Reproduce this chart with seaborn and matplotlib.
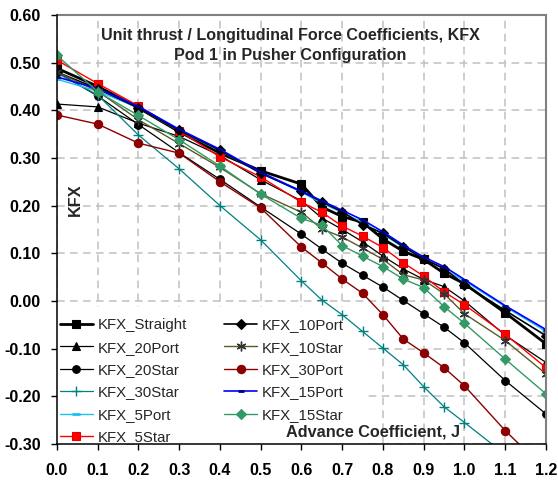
import matplotlib
matplotlib.use("Agg")
import matplotlib.pyplot as plt
import seaborn as sns
import pandas as pd
from matplotlib.patches import Rectangle
from matplotlib.ticker import MultipleLocator, FormatStrFormatter

# Advance coefficient stations
J = [0.0, 0.1, 0.2, 0.3, 0.4, 0.5, 0.6, 0.65, 0.7, 0.75, 0.8, 0.85, 0.9, 0.95, 1.0, 1.1, 1.2]

# Longitudinal force coefficient per pod angle
kfx_straight = [0.488, 0.450, 0.405, 0.355, 0.310, 0.273, 0.245, 0.197, 0.177, 0.165, 0.130, 0.104, 0.087, 0.058, 0.036, -0.025, -0.090]
kfx_20port   = [0.413, 0.407, 0.373, 0.345, 0.305, 0.254, 0.210, 0.174, 0.150, 0.124, 0.094, 0.067, 0.045, 0.030, 0.000, -0.072, -0.129]
kfx_20star   = [0.480, 0.430, 0.370, 0.311, 0.255, 0.197, 0.140, 0.109, 0.079, 0.054, 0.029, 0.001, -0.027, -0.055, -0.088, -0.167, -0.237]
kfx_30star   = [0.478, 0.432, 0.348, 0.277, 0.200, 0.128, 0.042, 0.002, -0.029, -0.064, -0.099, -0.134, -0.180, -0.222, -0.255, -0.322, -0.390]
kfx_5port    = [0.465, 0.440, 0.405, 0.357, 0.315, 0.268, 0.228, 0.205, 0.185, 0.165, 0.140, 0.112, 0.090, 0.066, 0.042, -0.012, -0.064]
kfx_5star    = [0.505, 0.456, 0.409, 0.357, 0.302, 0.260, 0.207, 0.186, 0.157, 0.136, 0.112, 0.080, 0.052, 0.019, -0.008, -0.070, -0.140]
kfx_10port   = [0.480, 0.445, 0.405, 0.358, 0.316, 0.268, 0.230, 0.208, 0.187, 0.160, 0.142, 0.114, 0.088, 0.068, 0.034, -0.020, -0.073]
kfx_10star   = [0.480, 0.440, 0.380, 0.330, 0.280, 0.225, 0.186, 0.151, 0.134, 0.111, 0.087, 0.055, 0.044, 0.015, -0.027, -0.083, -0.153]
kfx_30port   = [0.390, 0.371, 0.331, 0.310, 0.250, 0.195, 0.113, 0.080, 0.046, 0.016, -0.029, -0.080, -0.109, -0.140, -0.178, -0.272, -0.355]
kfx_15port   = [0.470, 0.445, 0.408, 0.360, 0.318, 0.270, 0.230, 0.210, 0.190, 0.170, 0.145, 0.117, 0.092, 0.072, 0.045, -0.010, -0.060]
kfx_15star   = [0.515, 0.439, 0.389, 0.338, 0.283, 0.224, 0.173, 0.159, 0.116, 0.094, 0.072, 0.046, 0.028, -0.012, -0.047, -0.122, -0.195]

series_names = ["KFX_Straight", "KFX_20Port", "KFX_20Star", "KFX_30Star", "KFX_5Port", "KFX_5Star",
                "KFX_10Port", "KFX_10Star", "KFX_30Port", "KFX_15Port", "KFX_15Star"]
series_values = [kfx_straight, kfx_20port, kfx_20star, kfx_30star, kfx_5port, kfx_5star,
                 kfx_10port, kfx_10star, kfx_30port, kfx_15port, kfx_15star]

title_text = "Unit thrust / Longitudinal Force Coefficients, KFX\nPod 1 in Pusher Configuration"
x_label = "Advance Coefficient, J"
y_label = "KFX"

# line / marker styling per series
styles = {
    "KFX_Straight": dict(color="black", lw=2.0, marker="s", ms=5.5, mfc="black", mec="black"),
    "KFX_20Port":   dict(color="black", lw=0.9, marker="^", ms=6, mfc="black", mec="black"),
    "KFX_20Star":   dict(color="black", lw=0.9, marker="o", ms=5.5, mfc="black", mec="black"),
    "KFX_30Star":   dict(color="#008080", lw=0.9, marker="+", ms=7.5, mew=1.0, mfc="#008080", mec="#008080"),
    "KFX_5Port":    dict(color="#1EC0F0", lw=1.0, marker="_", ms=6, mew=2.0, mfc="#1EC0F0", mec="#1EC0F0"),
    "KFX_5Star":    dict(color="#FF0000", lw=1.0, marker="s", ms=5.5, mfc="#FF0000", mec="#E00000"),
    "KFX_10Port":   dict(color="black", lw=1.2, marker="D", ms=5, mfc="black", mec="black"),
    "KFX_10Star":   dict(color="#5A5A28", lw=1.0, marker=(6, 2, 0), ms=7, mew=1.0, mfc="#333333", mec="#333333"),
    "KFX_30Port":   dict(color="#8B0000", lw=1.0, marker="o", ms=6, mfc="#8B0000", mec="#8B0000"),
    "KFX_15Port":   dict(color="#0000FF", lw=1.2, marker="_", ms=4, mew=2.0, mfc="#000080", mec="#000080"),
    "KFX_15Star":   dict(color="#339966", lw=1.0, marker="D", ms=5, mfc="#339966", mec="#339966"),
}

sns.set_theme(style="white")
plt.rcParams["font.family"] = ["Liberation Sans", "DejaVu Sans"]

fig = plt.figure(figsize=(5.58, 4.80), dpi=100)
ax = fig.add_axes([0.102, 0.075, 0.8765, 0.894])

for name, vals in zip(series_names, series_values):
    df = pd.DataFrame({"J": J, "KFX": vals})
    st = styles[name]
    sns.lineplot(data=df, x="J", y="KFX", ax=ax, label=name, sort=False, estimator=None,
                 color=st["color"], linewidth=st["lw"], marker=st["marker"],
                 markersize=st["ms"], markeredgewidth=st.get("mew", 0.8),
                 markerfacecolor=st["mfc"], markeredgecolor=st["mec"])

ax.set_xlim(0.0, 1.2)
ax.set_ylim(-0.30, 0.60)
ax.xaxis.set_major_locator(MultipleLocator(0.1))
ax.yaxis.set_major_locator(MultipleLocator(0.1))
ax.xaxis.set_major_formatter(FormatStrFormatter("%.1f"))
ax.yaxis.set_major_formatter(FormatStrFormatter("%.2f"))

ax.grid(True, linestyle=(0, (5, 3.5)), color="#C0C0C0", linewidth=1.1)
ax.set_axisbelow(True)

# white legend panel: hides the grid beneath the legend, series run over it
ax.add_patch(Rectangle((0.0, 0.0), 0.63, 0.32, transform=ax.transAxes,
                       facecolor="white", edgecolor="none", zorder=1))

for side in ("left", "bottom"):
    ax.spines[side].set_color("black")
    ax.spines[side].set_linewidth(1.1)
    ax.spines[side].set_zorder(3)
for side in ("top", "right"):
    ax.spines[side].set_color("#808080")
    ax.spines[side].set_linewidth(1.5)

ax.tick_params(axis="both", which="major", bottom=True, left=True, direction="out",
               length=4.5, width=1.0, color="black", labelsize=11.5, labelcolor="black")
ax.tick_params(axis="x", pad=9)
ax.tick_params(axis="y", pad=7)
for lbl in ax.get_xticklabels() + ax.get_yticklabels():
    lbl.set_fontweight("bold")

# axis titles sit inside the plot area, above the legend panel
ax.set_xlabel("")
ax.text(0.646, 0.028, x_label, transform=ax.transAxes, ha="center", va="center",
        fontsize=11.7, fontweight="bold", zorder=6)
ax.set_ylabel(y_label, fontsize=11.7, fontweight="bold", va="center", ha="center")
ax.yaxis.set_label_coords(0.037, 0.569)

ax.text(0.4765, 0.928, title_text, transform=ax.transAxes, ha="center", va="center",
        fontsize=11.6, fontweight="bold", linespacing=1.45)

ax.legend(ncol=2, loc="upper left", bbox_to_anchor=(0.0, 0.30), frameon=False,
          fontsize=10.8, handlelength=2.2, handletextpad=0.3, columnspacing=2.5,
          labelspacing=0.56, borderaxespad=0.0, borderpad=0.2)

fig.savefig("out.png", dpi=100)
